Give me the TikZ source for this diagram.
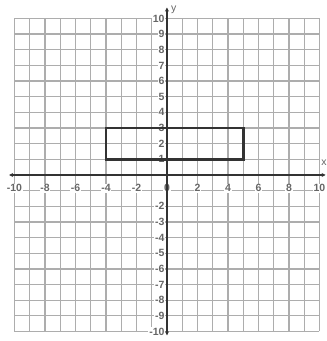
\documentclass[tikz,border=0pt]{standalone}
\usepackage{fontspec}
\setmainfont{Liberation Sans}
\usetikzlibrary{arrows.meta}
\definecolor{gridc}{gray}{0.68}
\definecolor{labc}{gray}{0.4}
\tikzset{
  gridline/.style={draw=gridc, line width=1.3pt},
  axisline/.style={draw=black!80, line width=1.8pt, {Stealth[length=4pt,width=4pt]}-{Stealth[length=4pt,width=4pt]}},
  shapeline/.style={draw=black!80, line width=2.6pt},
  ticklab/.style={fill=white, text=labc, font=\bfseries\fontsize{10.5}{11}\selectfont, inner sep=0.8pt},
  axlab/.style={text=labc, font=\fontsize{10.5}{11}\selectfont, inner sep=0pt}
}
\begin{document}
\begin{tikzpicture}[x=15.25pt, y=15.65pt]
\useasboundingbox[fill=white] (-10.95,-10.61) rectangle (10.49,11.18);
\foreach \i in {-10,...,10} {
  \draw[gridline] (\i,-10) -- (\i,10);
  \draw[gridline] (-10,\i) -- (10,\i);
}
\foreach \i in {-10,-8,...,10} {
  \node[ticklab] (xl\i) at (\i,-0.85) {\i};
}
\foreach \i in {1,...,10} {
  \node[ticklab, anchor=east] (yl\i) at (-0.1,\i) {\i};
}
\foreach \i in {-2,...,-10} {
  \node[ticklab, anchor=east] (yn\i) at (-0.1,\i) {\i};
}
\coordinate (xa) at (-10.35,0);
\coordinate (xb) at (10.4,0);
\coordinate (ya) at (0,-10.25);
\coordinate (yb) at (0,10.7);
\draw[axisline] (xa) -- (xb);
\draw[axisline] (ya) -- (yb);
\node[axlab] (xlab) at (10.3,0.75) {x};
\node[axlab] (ylab) at (0.45,10.55) {y};
\coordinate (r1) at (-4,1);
\coordinate (r2) at (5,3);
\draw[shapeline] (r1) rectangle (r2);
\end{tikzpicture}
\end{document}
